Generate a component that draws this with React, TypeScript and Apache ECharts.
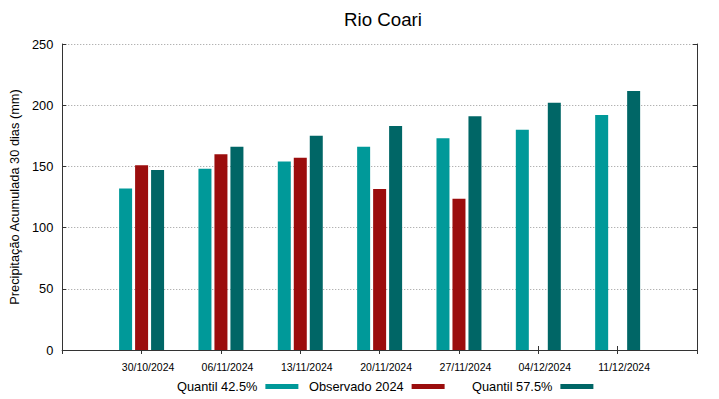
import React, { useEffect, useRef } from 'react';
import * as echarts from 'echarts';

const categories = ['30/10/2024', '06/11/2024', '13/11/2024', '20/11/2024', '27/11/2024', '04/12/2024', '11/12/2024'];
const quantil425 = [132, 148, 154, 166, 173, 180, 192];
const observado2024: (number | null)[] = [151, 160, 157, 131.5, 123.5, null, null];
const quantil575 = [147, 166, 175, 183, 191, 202, 211.5];
const yTicks = { min: 0, max: 250, interval: 50 };

const FONT = 'Liberation Sans, Arial, sans-serif';
const C1 = '#009999';
const C2 = '#9b0d0d';
const C3 = '#006666';

export default function App() {
  const ref = useRef<HTMLDivElement>(null);
  useEffect(() => {
    if (!ref.current) return;
    const chart = echarts.init(ref.current, undefined, { renderer: 'svg' });
    const cats = ['', ...categories, ''];
    const pad = (arr: (number | null)[]) => ['-', ...arr.map((v) => (v == null ? '-' : v)), '-'];
    const axisLine = { show: true, lineStyle: { color: '#333', width: 1 } };
    const legendBase = {
      orient: 'horizontal' as const,
      top: 380,
      padding: 0,
      align: 'right' as const,
      itemWidth: 33,
      itemHeight: 5,
      icon: 'rect',
      textStyle: { fontFamily: FONT, fontSize: 12.8, color: '#000', padding: [0, 3, 0, 0] },
      selectedMode: false,
    };
    chart.setOption({
      animation: false,
      textStyle: { fontFamily: FONT },
      title: {
        text: 'Rio Coari',
        left: 378,
        textAlign: 'center',
        top: 5,
        textStyle: { fontFamily: FONT, fontSize: 18.7, fontWeight: 'normal', color: '#000' },
      },
      legend: [
        { ...legendBase, left: 177, data: ['Quantil 42.5%'] },
        { ...legendBase, left: 309, data: ['Observado 2024'] },
        { ...legendBase, left: 472, data: ['Quantil 57.5%'] },
      ],
      grid: { left: 59, right: 22, top: 44, bottom: 49, containLabel: false },
      xAxis: [
        {
          type: 'category',
          data: cats,
          boundaryGap: false,
          position: 'bottom',
          axisLine,
          axisTick: { show: true, inside: true, length: 4, interval: 0, lineStyle: { color: '#333' } },
          axisLabel: { interval: 0, fontSize: 10.5, color: '#000', fontFamily: FONT, margin: 11, padding: [0, 0, 0, 13] },
          splitLine: { show: false },
        },
        {
          type: 'category',
          data: cats,
          boundaryGap: false,
          position: 'top',
          axisLine,
          axisTick: { show: true, inside: true, length: 4, interval: 0, lineStyle: { color: '#333' } },
          axisLabel: { show: false },
          splitLine: { show: false },
        },
      ],
      yAxis: [
        {
          type: 'value',
          ...yTicks,
          position: 'left',
          name: 'Precipitação Acumulada 30 dias (mm)',
          nameLocation: 'middle',
          nameGap: 37,
          nameTextStyle: { fontFamily: FONT, fontSize: 12.8, color: '#000' },
          axisLine,
          axisTick: { show: true, inside: true, length: 4, lineStyle: { color: '#333' } },
          axisLabel: { fontSize: 12.8, color: '#000', fontFamily: FONT, margin: 9 },
          splitLine: { show: true, lineStyle: { color: '#999', type: [1, 2], width: 1 } },
        },
        {
          type: 'value',
          ...yTicks,
          position: 'right',
          axisLine,
          axisTick: { show: true, inside: true, length: 4, lineStyle: { color: '#333' } },
          axisLabel: { show: false },
          splitLine: { show: false },
        },
      ],
      series: [
        { name: 'Quantil 42.5%', type: 'bar', data: pad(quantil425), barWidth: 13, barGap: '23%', itemStyle: { color: C1 } },
        { name: 'Observado 2024', type: 'bar', data: pad(observado2024), barWidth: 13, barGap: '23%', itemStyle: { color: C2 } },
        { name: 'Quantil 57.5%', type: 'bar', data: pad(quantil575), barWidth: 13, barGap: '23%', itemStyle: { color: C3 } },
      ],
    });
    return () => chart.dispose();
  }, []);
  return <div ref={ref} style={{ position: 'absolute', left: 0, top: 0, width: 719, height: 399 }} />;
}
